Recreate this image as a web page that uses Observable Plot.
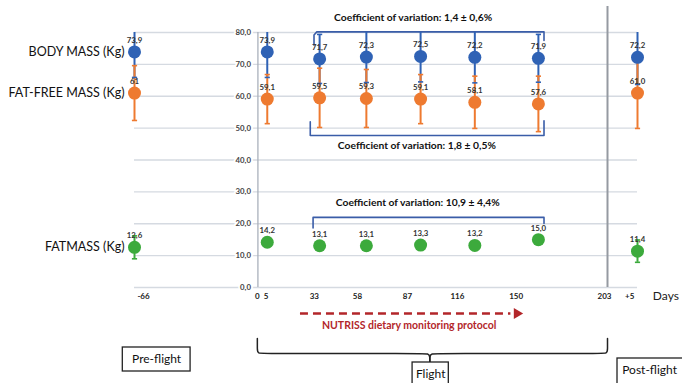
<!DOCTYPE html>
<html>
<head>
<meta charset="utf-8">
<script src="https://cdn.jsdelivr.net/npm/d3@7"></script>
<script src="https://cdn.jsdelivr.net/npm/@observablehq/plot@0.6"></script>
<style>
  body { margin: 0; background: #fff; }
  #chart { position: relative; width: 682px; height: 383px; overflow: hidden; font-family: Lato, sans-serif; }
  #chart svg { position: absolute; left: 0; top: 0; background: transparent; }
</style>
</head>
<body>
<div id="chart"></div>
<script>
// Measurement sessions (days relative to launch; post-flight session drawn at landing day)
const sessions = ["Pre-flight", "Day 5", "Day 33", "Day 58", "Day 87", "Day 116", "Day 150", "Post-flight +5"];
const days = [-66, 5, 33, 58, 87, 116, 150, 203];

// Mean ± SD, kg
const bodyMass = [73.9, 73.9, 71.7, 72.3, 72.5, 72.2, 71.9, 72.2];
const bodyMassSD = [8.0, 8.0, 7.7, 8.0, 8.0, 8.0, 7.5, 8.5];
const fatFreeMass = [61.0, 59.1, 59.5, 59.3, 59.1, 58.1, 57.6, 61.0];
const fatFreeMassSD = [8.6, 7.7, 9.3, 9.1, 7.7, 8.2, 8.7, 11.1];
const fatFreeMassDigits = [0, 1, 1, 1, 1, 1, 1, 1];
const fatMass = [12.6, 14.2, 13.1, 13.1, 13.3, 13.2, 15.0, 11.4];
const fatMassSD = [3.6, 1.4, 1.4, 1.4, 1.4, 1.4, 1.4, 3.5];

const seriesNames = ["BODY MASS (Kg)", "FAT-FREE MASS (Kg)", "FATMASS (Kg)"];
const seriesColors = ["#2f62b5", "#ee7a30", "#3caa3c"];

// Value-axis ticks
const yTicks = [0, 10, 20, 30, 40, 50, 60, 70, 80];
const yMax = 80;

// Coefficient-of-variation notes
const cvNotes = ["Coefficient of variation: 1,4 ± 0,6%", "Coefficient of variation: 1,8 ± 0,5%", "Coefficient of variation: 10,9 ± 4,4%"];

// Timeline axis
const timelineTicks = [-66, 0, 5, 33, 58, 87, 116, 150];
const timelineLabels = ["-66", "0", "5", "33", "58", "87", "116", "150"];
const landingDay = 203;
const postFlightDay = 208;
const postFlightLabel = "+5";
const phases = ["Pre-flight", "Flight", "Post-flight"];
const protocolLabel = "NUTRISS dietary monitoring protocol";

const comma = (v, digits = 1) => v.toFixed(digits).replace(".", ",");

// Long table: one row per series × session
const rows = [];
[[bodyMass, bodyMassSD, null], [fatFreeMass, fatFreeMassSD, fatFreeMassDigits], [fatMass, fatMassSD, null]]
  .forEach(([values, sds, digits], s) => {
    values.forEach((v, i) => rows.push({
      series: seriesNames[s], session: sessions[i], day: days[i], value: v, sd: sds[i],
      label: comma(v, digits ? digits[i] : 1)
    }));
  });
const firsts = seriesNames.map(name => rows.find(r => r.series === name));

// Horizontal cap drawn as a short line
const capSymbol = {
  draw(context, size) {
    const w = Math.sqrt(size / Math.PI);
    context.moveTo(-w, 0);
    context.lineTo(w, 0);
  }
};

const color = {domain: seriesNames, range: seriesColors};

const chart = Plot.plot({
  width: 682,
  height: 383,
  marginLeft: 134,
  marginRight: 45,
  marginTop: 32,
  marginBottom: 96,
  style: {fontFamily: "Lato, sans-serif", background: "transparent"},
  x: {domain: [-66, 203], axis: null},
  y: {domain: [0, yMax], axis: null},
  color,
  marks: [
    Plot.ruleY(yTicks, {stroke: "#d5dae1", strokeWidth: 1.3}),
    Plot.ruleX([0], {stroke: "#aab1bc", strokeWidth: 1.3}),
    Plot.text(yTicks, {x: 0, y: d => d, text: d => comma(d), dx: -7, textAnchor: "end",
      fontSize: 7.8, fontWeight: "bold", fill: "#444", stroke: "white", strokeWidth: 4}),

    // brackets grouping the in-flight sessions
    Plot.line([[30, 76], [30, 79.2], [31.5, 80.2], [153, 80.2], [153, 77.5]],
      {x: d => d[0], y: d => d[1], stroke: "#3a5da8", strokeWidth: 1.6}),
    Plot.line([[28, 52], [28, 47.7], [153, 47.7], [153, 52.3]],
      {x: d => d[0], y: d => d[1], stroke: "#3a5da8", strokeWidth: 1.6}),
    Plot.line([[29.5, 18.7], [29.5, 22], [153, 22], [153, 20.1]],
      {x: d => d[0], y: d => d[1], stroke: "#3a5da8", strokeWidth: 1.6}),

    // error bars (the value axis stops at 80 kg)
    Plot.ruleX(rows, {x: "day", y1: d => d.value - d.sd, y2: d => Math.min(d.value + d.sd, yMax),
      stroke: "series", strokeWidth: 2}),
    Plot.dot(rows, {x: "day", y: d => d.value - d.sd, symbol: capSymbol, r: 2.6,
      stroke: "series", strokeWidth: 1.6, fill: "none"}),
    Plot.dot(rows.filter(d => d.value + d.sd <= yMax), {x: "day", y: d => d.value + d.sd, symbol: capSymbol, r: 2.6,
      stroke: "series", strokeWidth: 1.6, fill: "none"}),

    // means
    Plot.dot(rows, {x: "day", y: "value", r: 6.5, fill: "series", stroke: "none"}),
    Plot.text(rows, {x: "day", y: "value", text: "label", dy: -11.5, fontSize: 7.8,
      fontWeight: "bold", fill: "#333"}),

    // series names
    Plot.text(firsts, {x: "day", y: "value", text: "series", dx: -10, textAnchor: "end",
      fontSize: 12.5, fill: "#111"}),

    // coefficient-of-variation notes
    Plot.text(cvNotes, {x: [83, 85, 85.5], y: [84.5, 44.5, 26.5], text: d => d,
      fontSize: 10.3, fontWeight: "bold", fill: "#111"})
  ]
});

// Timeline under the chart: day markers, protocol window, mission phases
const bracePoints = [
  {side: "l", x: 0, y: 338}, {side: "l", x: 0, y: 349}, {side: "l", x: 0, y: 353}, {side: "l", x: 5, y: 353},
  {side: "l", x: 94, y: 353}, {side: "l", x: 99.5, y: 353}, {side: "l", x: 100, y: 356}, {side: "l", x: 100, y: 362},
  {side: "r", x: 203, y: 338}, {side: "r", x: 203, y: 349}, {side: "r", x: 203, y: 353}, {side: "r", x: 198, y: 353},
  {side: "r", x: 106, y: 353}, {side: "r", x: 100.5, y: 353}, {side: "r", x: 100, y: 356}, {side: "r", x: 100, y: 362}
];
const phaseBoxes = [
  {name: phases[0], x1: -78, x2: -38.7, y1: 347, y2: 371, cx: -58.4, cy: 359},
  {name: phases[1], x1: 90, x2: 111, y1: 362, y2: 392, cx: 100.5, cy: 373.5},
  {name: phases[2], x1: 208.8, x2: 255, y1: 358, y2: 392, cx: 227.4, cy: 370}
];

const timeline = Plot.plot({
  width: 682,
  height: 383,
  margin: 0,
  style: {fontFamily: "Lato, sans-serif", background: "transparent"},
  x: {domain: [-66, 203], range: [143, 607], axis: null},
  y: {domain: [0, 383], range: [0, 383], axis: null},
  marks: [
    Plot.ruleX([landingDay], {y1: 6, y2: 287, stroke: "#959aa1", strokeWidth: 2}),
    Plot.text(timelineTicks, {x: d => d, y: 296, text: (d, i) => timelineLabels[i],
      fontSize: 8, fontWeight: "bold", fill: "#222"}),
    Plot.text([landingDay], {x: d => d, y: 296, text: d => String(d), dx: 4, textAnchor: "end",
      fontSize: 8, fontWeight: "bold", fill: "#222"}),
    Plot.text([postFlightDay], {x: d => d, y: 296, text: () => postFlightLabel, dx: 9, textAnchor: "start",
      fontSize: 8, fontWeight: "bold", fill: "#222"}),
    Plot.text(["Days"], {x: 229.3, y: 296, text: d => d, textAnchor: "start", fontSize: 12, fill: "#222"}),

    Plot.ruleY([313], {x1: 25, x2: 147, stroke: "#b3262a", strokeWidth: 2.6, strokeDasharray: "8,5"}),
    Plot.dot([313], {x: 150.5, y: d => d, symbol: "triangle", rotate: 90, r: 4, fill: "#b3262a"}),
    Plot.text([protocolLabel], {x: 88, y: 325, text: d => d, fontSize: 10.5, fontWeight: "bold", fill: "#b3262a"}),

    Plot.line(bracePoints, {x: "x", y: "y", z: "side", curve: "basis", stroke: "#222", strokeWidth: 1.5}),

    Plot.rect(phaseBoxes, {x1: "x1", x2: "x2", y1: "y1", y2: "y2", fill: "white", stroke: "#222", strokeWidth: 1.3}),
    Plot.text(phaseBoxes, {x: "cx", y: "cy", text: "name", fontSize: 12, fill: "#111"})
  ]
});

const root = document.getElementById("chart");
root.append(chart, timeline);
</script>
</body>
</html>
